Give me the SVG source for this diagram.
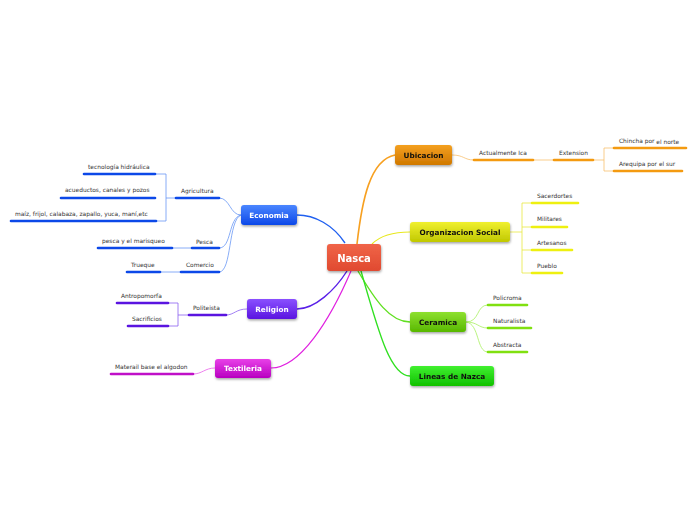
<svg xmlns="http://www.w3.org/2000/svg" width="696" height="520" viewBox="0 0 696 520">
<defs>
<linearGradient id="gRed" x1="0" y1="0" x2="0" y2="1"><stop offset="0" stop-color="#f06448"/><stop offset="1" stop-color="#e04a30"/></linearGradient>
<linearGradient id="gBlue" x1="0" y1="0" x2="0" y2="1"><stop offset="0" stop-color="#4a86ff"/><stop offset="1" stop-color="#0c48e8"/></linearGradient>
<linearGradient id="gPurple" x1="0" y1="0" x2="0" y2="1"><stop offset="0" stop-color="#8a50ff"/><stop offset="1" stop-color="#5a14e0"/></linearGradient>
<linearGradient id="gMag" x1="0" y1="0" x2="0" y2="1"><stop offset="0" stop-color="#e840e8"/><stop offset="1" stop-color="#b800c0"/></linearGradient>
<linearGradient id="gOrange" x1="0" y1="0" x2="0" y2="1"><stop offset="0" stop-color="#f4a020"/><stop offset="1" stop-color="#d07800"/></linearGradient>
<linearGradient id="gYellow" x1="0" y1="0" x2="0" y2="1"><stop offset="0" stop-color="#f0f030"/><stop offset="1" stop-color="#c0c800"/></linearGradient>
<linearGradient id="gLime" x1="0" y1="0" x2="0" y2="1"><stop offset="0" stop-color="#8ee030"/><stop offset="1" stop-color="#58b800"/></linearGradient>
<linearGradient id="gGreen" x1="0" y1="0" x2="0" y2="1"><stop offset="0" stop-color="#40f030"/><stop offset="1" stop-color="#10c000"/></linearGradient>
<filter id="sh" x="-20%" y="-30%" width="140%" height="170%"><feDropShadow dx="0.5" dy="1.5" stdDeviation="1" flood-color="#000" flood-opacity="0.35"/></filter>
</defs>
<style>
.nt{font-family:"DejaVu Sans",Verdana,sans-serif;font-weight:bold;font-size:7.3px;text-anchor:middle}
.st{font-family:"DejaVu Sans",Verdana,sans-serif;font-size:5.9px;fill:#333}
.c{fill:none}
</style>
<rect width="696" height="520" fill="#fff"/>
<g id="connectors" class="c">
<path d="M357,244 C362,200 370,160 395,155" stroke="#f7a020" stroke-width="1.6"/>
<path d="M372,244 C380,236 392,232 410,232" stroke="#e8e820" stroke-width="1.2"/>
<path d="M345,243 C333,225 315,215 297,215" stroke="#2060f0" stroke-width="1.4"/>
<path d="M347,271 C335,290 315,309 297,309" stroke="#5a20e8" stroke-width="1.4"/>
<path d="M351,271 C330,320 300,368 271,368" stroke="#e020e0" stroke-width="1.2"/>
<path d="M358,271 C375,300 390,322 410,322" stroke="#60e020" stroke-width="1.4"/>
<path d="M361,271 C378,330 390,376 410,376" stroke="#30e020" stroke-width="1.4"/>
<g stroke="#6a98f5" stroke-width="0.8">
<path d="M241,215 C230,215 230,198 219,198"/>
<path d="M241,215 C228,218 232,248 219,248"/>
<path d="M241,215 C228,220 232,272 219,272"/>
<path d="M176,198 H166 M155,174 H166 V221 H156"/>
<path d="M192,248 H172"/>
<path d="M181,272 H160"/>
</g>
<g stroke="#8a60f0" stroke-width="0.8">
<path d="M247,309 C236,309 234,315 226,315"/>
<path d="M189,315 H178 M168,303 H178 V326 H168"/>
</g>
<path d="M215,368 C205,368 202,374 193,374" stroke="#e860e8" stroke-width="0.8"/>
<g stroke="#f8c070" stroke-width="0.8">
<path d="M452,155 C464,155 464,160 474,160"/>
<path d="M533,160 H554"/>
<path d="M593,160 H604 M614,148 H604 V171 H614"/>
</g>
<path d="M510,232 H522 M532,203 H522 V273 H532 M522,227 H532 M522,250 H532" stroke="#e8e840" stroke-width="0.8"/>
<g stroke="#a8f060" stroke-width="0.8">
<path d="M466,322 C480,322 476,305 488,305"/>
<path d="M466,322 C478,322 478,328 488,328"/>
<path d="M466,322 C480,324 476,352 488,352"/>
</g>
</g>
<g id="bars" stroke-width="2.6" stroke-linecap="round">
<g stroke="#0c48e8">
<line x1="176" y1="198" x2="219" y2="198"/>
<line x1="192" y1="248" x2="219" y2="248"/>
<line x1="181" y1="272" x2="219" y2="272"/>
<line x1="84" y1="174" x2="155" y2="174"/>
<line x1="61" y1="198" x2="155" y2="198"/>
<line x1="11" y1="221" x2="156" y2="221"/>
<line x1="98" y1="248" x2="172" y2="248"/>
<line x1="127" y1="272" x2="160" y2="272"/>
</g>
<g stroke="#5a14e0">
<line x1="189" y1="315" x2="226" y2="315"/>
<line x1="117" y1="303" x2="168" y2="303"/>
<line x1="128" y1="326" x2="168" y2="326"/>
</g>
<line x1="111" y1="374" x2="193" y2="374" stroke="#c010c8"/>
<g stroke="#f49a10">
<line x1="474" y1="160" x2="533" y2="160"/>
<line x1="554" y1="160" x2="593" y2="160"/>
<line x1="614" y1="148" x2="686" y2="148"/>
<line x1="614" y1="171" x2="682" y2="171"/>
</g>
<g stroke="#eef010">
<line x1="532" y1="203" x2="578" y2="203"/>
<line x1="532" y1="227" x2="567" y2="227"/>
<line x1="532" y1="250" x2="572" y2="250"/>
<line x1="532" y1="273" x2="562" y2="273"/>
</g>
<g stroke="#80e010">
<line x1="488" y1="305" x2="527" y2="305"/>
<line x1="488" y1="328" x2="531" y2="328"/>
<line x1="488" y1="352" x2="527" y2="352"/>
</g>
</g>
<g id="labels" class="st">
<text x="181" y="193">Agricultura</text>
<text x="196" y="244">Pesca</text>
<text x="186" y="267">Comercio</text>
<text x="88" y="169">tecnología hidráulica</text>
<text x="65" y="192">acueductos, canales y pozos</text>
<text x="15" y="216">maíz, frijol, calabaza, zapallo, yuca, maní,etc</text>
<text x="102" y="243">pesca y el marisqueo</text>
<text x="131" y="267">Trueque</text>
<text x="193" y="310">Politeista</text>
<text x="121" y="298">Antropomorfa</text>
<text x="132" y="321">Sacrificios</text>
<text x="115" y="369">Materail base el algodon</text>
<text x="479" y="155">Actualmente Ica</text>
<text x="559" y="155">Extension</text>
<text x="619" y="143">Chincha por <tspan dy="1">el norte</tspan></text>
<text x="619" y="166">Arequipa por el sur</text>
<text x="537" y="198">Sacerdortes</text>
<text x="537" y="221">Militares</text>
<text x="537" y="245">Artesanos</text>
<text x="537" y="268">Pueblo</text>
<text x="493" y="300">Policroma</text>
<text x="493" y="323">Naturalista</text>
<text x="493" y="347">Abstracta</text>
</g>
<g id="nasca" filter="url(#sh)"><rect x="327" y="244" width="54" height="27" rx="3" fill="url(#gRed)"/><text x="354" y="261.5" class="nt" style="font-size:10px" fill="#fff">Nasca</text></g>
<g id="economia" filter="url(#sh)"><rect x="241" y="205" width="56" height="20" rx="3" fill="url(#gBlue)"/><text x="269" y="217.6" class="nt" fill="#fff">Economia</text></g>
<g id="religion" filter="url(#sh)"><rect x="247" y="299" width="50" height="20" rx="3" fill="url(#gPurple)"/><text x="272" y="311.6" class="nt" fill="#fff">Religion</text></g>
<g id="textileria" filter="url(#sh)"><rect x="215" y="359" width="56" height="19" rx="3" fill="url(#gMag)"/><text x="243" y="371.2" class="nt" fill="#fff">Textileria</text></g>
<g id="ubicacion" filter="url(#sh)"><rect x="395" y="145" width="57" height="20" rx="3" fill="url(#gOrange)"/><text x="423.5" y="157.6" class="nt" fill="#111">Ubicacion</text></g>
<g id="organizacion" filter="url(#sh)"><rect x="410" y="222" width="100" height="20" rx="3" fill="url(#gYellow)"/><text x="460" y="234.6" class="nt" fill="#111">Organizacion Social</text></g>
<g id="ceramica" filter="url(#sh)"><rect x="410" y="312" width="56" height="20" rx="3" fill="url(#gLime)"/><text x="438" y="324.6" class="nt" fill="#111">Ceramica</text></g>
<g id="lineas" filter="url(#sh)"><rect x="410" y="366" width="84" height="20" rx="3" fill="url(#gGreen)"/><text x="452" y="378.6" class="nt" fill="#111">Lineas de Nazca</text></g>
</svg>
